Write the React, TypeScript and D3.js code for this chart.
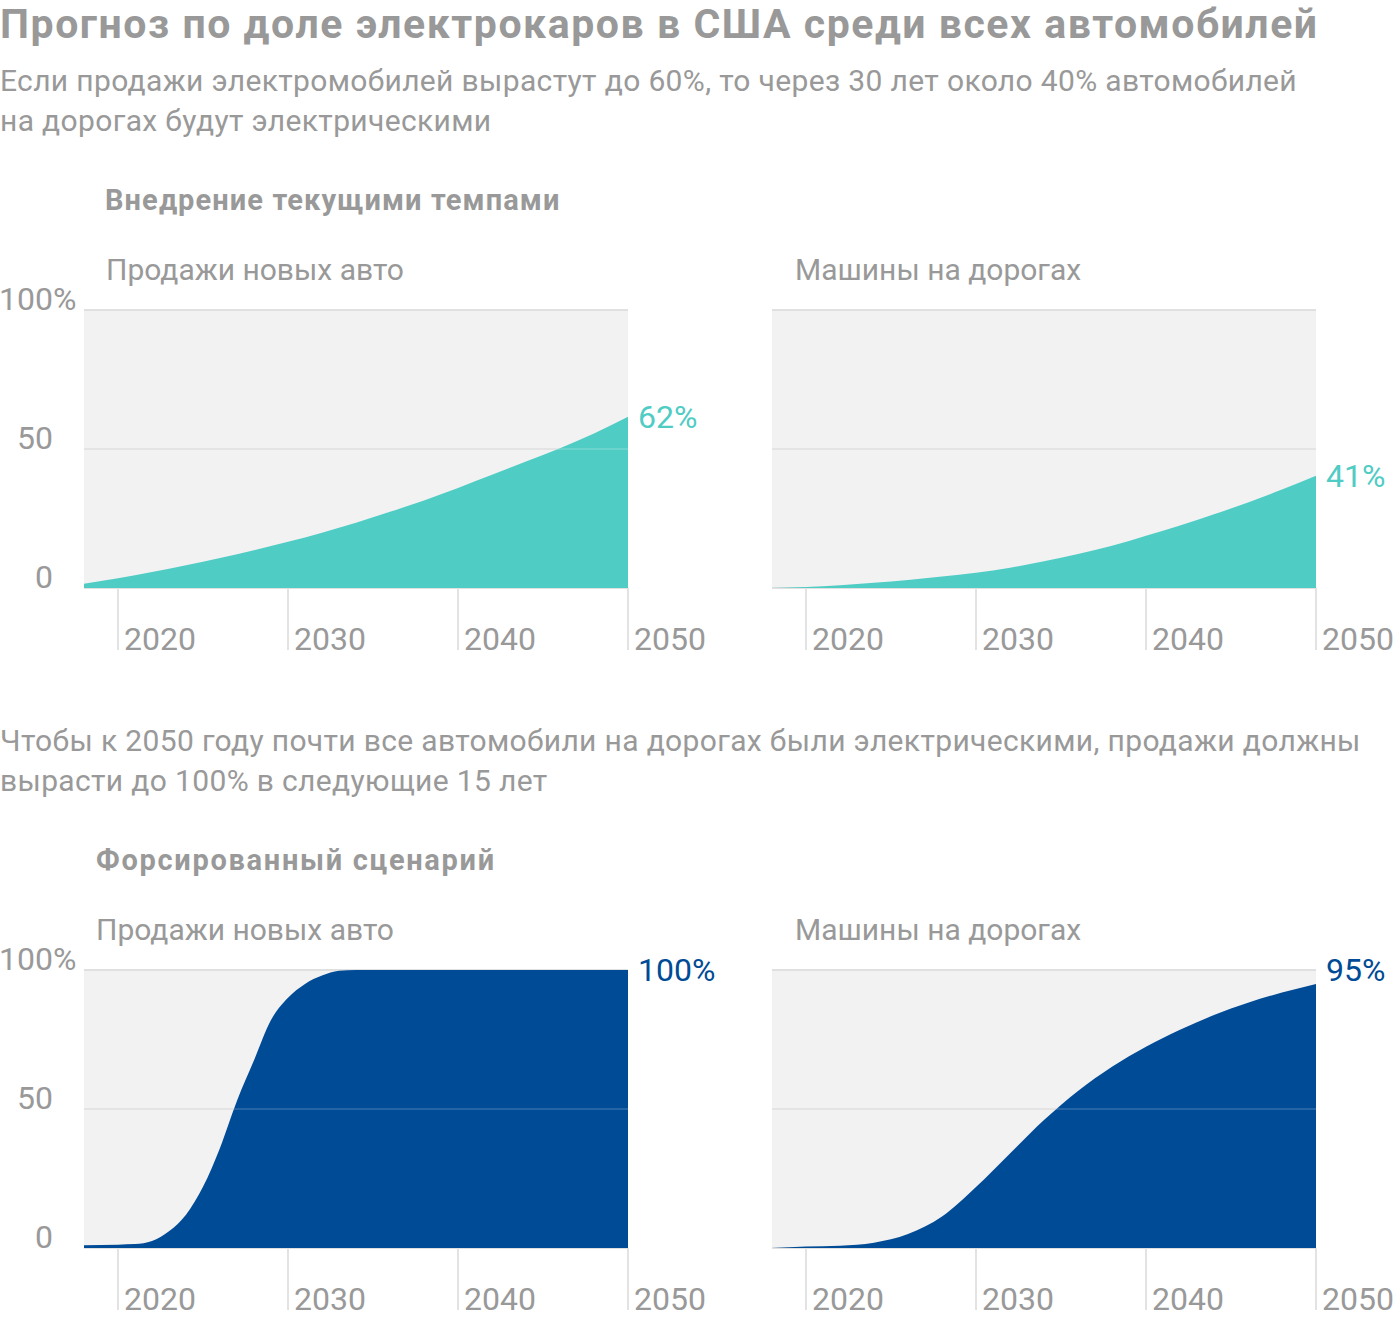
import React from "react";
import * as d3 from "d3";

const yearsEven = [2018, 2020, 2022, 2024, 2026, 2028, 2030, 2032, 2034, 2036, 2038, 2040, 2042, 2044, 2046, 2048, 2050];
const salesCurrent = [1.5, 3.5, 5.8, 8.2, 10.8, 13.6, 16.6, 19.9, 23.5, 27.4, 31.5, 36, 40.7, 45.5, 50.3, 55.6, 61.6];
const roadsCurrent = [0, 0.4, 1.0, 1.9, 2.9, 4.1, 5.5, 7.3, 9.6, 12.2, 15.2, 18.8, 22.5, 26.5, 30.8, 35.4, 40.4];

const yearsForcedSales = [2018, 2020, 2021, 2022, 2023, 2024, 2025, 2026, 2027, 2028, 2029, 2030, 2031, 2032, 2033, 2034, 2040, 2045, 2050];
const salesForced = [1, 1.2, 1.4, 2.5, 6, 12, 22, 36, 53, 67.5, 82, 90, 95, 98, 99.7, 100, 100, 100, 100];
const roadsForced = [0, 0.5, 0.8, 1.9, 5, 11.3, 21.9, 34, 46, 56.5, 65.2, 72.4, 78.5, 83.8, 88.2, 91.9, 95];

const xTicks = [2020, 2030, 2040, 2050];
const yTicks = [0, 50, 100];
const endLabels = ["62%", "41%", "100%", "95%"];

const title = "Прогноз по доле электрокаров в США среди всех автомобилей";
const subtitle1 = ["Если продажи электромобилей вырастут до 60%, то через 30 лет около 40% автомобилей", "на дорогах будут электрическими"];
const subtitle2 = ["Чтобы к 2050 году почти все автомобили на дорогах были электрическими, продажи должны", "вырасти до 100% в следующие 15 лет"];
const sectionTitles = ["Внедрение текущими темпами", "Форсированный сценарий"];
const panelTitles = ["Продажи новых авто", "Машины на дорогах"];

const TEAL = "#4fccc4";
const BLUE = "#004b96";
const GRAY = "#999999";
const FONT = "Roboto, 'Noto Sans', sans-serif";

type PanelProps = {
  x0: number; x1: number; yTop: number; yBottom: number;
  years: number[]; values: number[]; color: string; label: string;
};

function Panel({ x0, x1, yTop, yBottom, years, values, color, label }: PanelProps) {
  const x = d3.scaleLinear().domain([2018, 2050]).range([x0, x1]);
  const y = d3.scaleLinear().domain([0, 100]).range([yBottom, yTop]);
  const data = years.map((yr, i) => ({ yr, v: values[i] }));
  const area = d3.area<{ yr: number; v: number }>()
    .x(d => x(d.yr)).y0(y(0)).y1(d => y(d.v)).curve(d3.curveMonotoneX);
  const last = values[values.length - 1];
  const labelY = last > 90 ? y(100) : y(last);
  return (
    <g>
      <rect x={x(2018)} y={y(100)} width={x(2050) - x(2018)} height={y(0) - y(100)} fill="#f2f2f2" />
      {yTicks.map(t => (
        <line key={"g" + t} x1={x(2018)} x2={x(2050)} y1={y(t)} y2={y(t)} stroke="#e0e0e0" strokeWidth={2} />
      ))}
      {xTicks.map(t => (
        <line key={"t" + t} x1={x(t)} x2={x(t)} y1={y(0)} y2={y(0) + 62} stroke="#e3e3e3" strokeWidth={2} />
      ))}
      <path d={area(data) || ""} fill={color} />
      {yTicks.filter(t => t > 0 && t < 100).map(t => (
        <line key={"o" + t} x1={x(2018)} x2={x(2050)} y1={y(t)} y2={y(t)} stroke="rgba(255,255,255,0.15)" strokeWidth={2} />
      ))}
      {xTicks.map(t => (
        <text key={"l" + t} x={x(t) + 6} y={y(0) + 62} fontSize={32} fill={GRAY} fontFamily={FONT}>{t}</text>
      ))}
      <text x={x(2050) + 10} y={labelY} dy="0.35em" fontSize={32} fill={color} fontFamily={FONT}>{label}</text>
    </g>
  );
}

function YAxisLabels({ yTop, yBottom }: { yTop: number; yBottom: number }) {
  const y = d3.scaleLinear().domain([0, 100]).range([yBottom, yTop]);
  return (
    <g fontFamily={FONT} fontSize={32} fill={GRAY}>
      {yTicks.map(t => (
        <text key={t} x={53} y={y(t)} textAnchor="end">{t}</text>
      ))}
      <text x={53} y={y(100)}>%</text>
    </g>
  );
}

export default function App() {
  const top = { yTop: 310, yBottom: 588 };
  const bot = { yTop: 970, yBottom: 1248 };
  const L = { x0: 84, x1: 628 };
  const R = { x0: 772, x1: 1316 };
  const sub = { fontFamily: FONT, fontSize: 30, fill: GRAY, letterSpacing: 0.35 };
  const sec = { fontFamily: FONT, fontWeight: 700, fontSize: 29, fill: GRAY, letterSpacing: 1.1 };
  const sec2 = { fontFamily: FONT, fontWeight: 700, fontSize: 29, fill: GRAY, letterSpacing: 1.7 };
  const pan = { fontFamily: FONT, fontSize: 30, fill: GRAY };
  return (
    <svg width={1400} height={1320} style={{ position: "absolute", left: 0, top: 0, background: "#fff" }}>
      <text x={0} y={38} fontFamily={FONT} fontWeight={700} fontSize={41} letterSpacing={1.55} fill={GRAY}>{title}</text>
      {subtitle1.map((s, i) => (
        <text key={s} x={0} y={91 + i * 40} {...sub}>{s}</text>
      ))}
      <text x={105} y={210} {...sec}>{sectionTitles[0]}</text>
      <text x={106} y={280} {...pan}>{panelTitles[0]}</text>
      <text x={795} y={280} {...pan}>{panelTitles[1]}</text>

      <YAxisLabels {...top} />
      <Panel {...L} {...top} years={yearsEven} values={salesCurrent} color={TEAL} label={endLabels[0]} />
      <Panel {...R} {...top} years={yearsEven} values={roadsCurrent} color={TEAL} label={endLabels[1]} />

      {subtitle2.map((s, i) => (
        <text key={s} x={0} y={751 + i * 40} {...sub}>{s}</text>
      ))}
      <text x={96} y={870} {...sec2}>{sectionTitles[1]}</text>
      <text x={96} y={940} {...pan}>{panelTitles[0]}</text>
      <text x={795} y={940} {...pan}>{panelTitles[1]}</text>

      <YAxisLabels {...bot} />
      <Panel {...L} {...bot} years={yearsForcedSales} values={salesForced} color={BLUE} label={endLabels[2]} />
      <Panel {...R} {...bot} years={yearsEven} values={roadsForced} color={BLUE} label={endLabels[3]} />
    </svg>
  );
}
